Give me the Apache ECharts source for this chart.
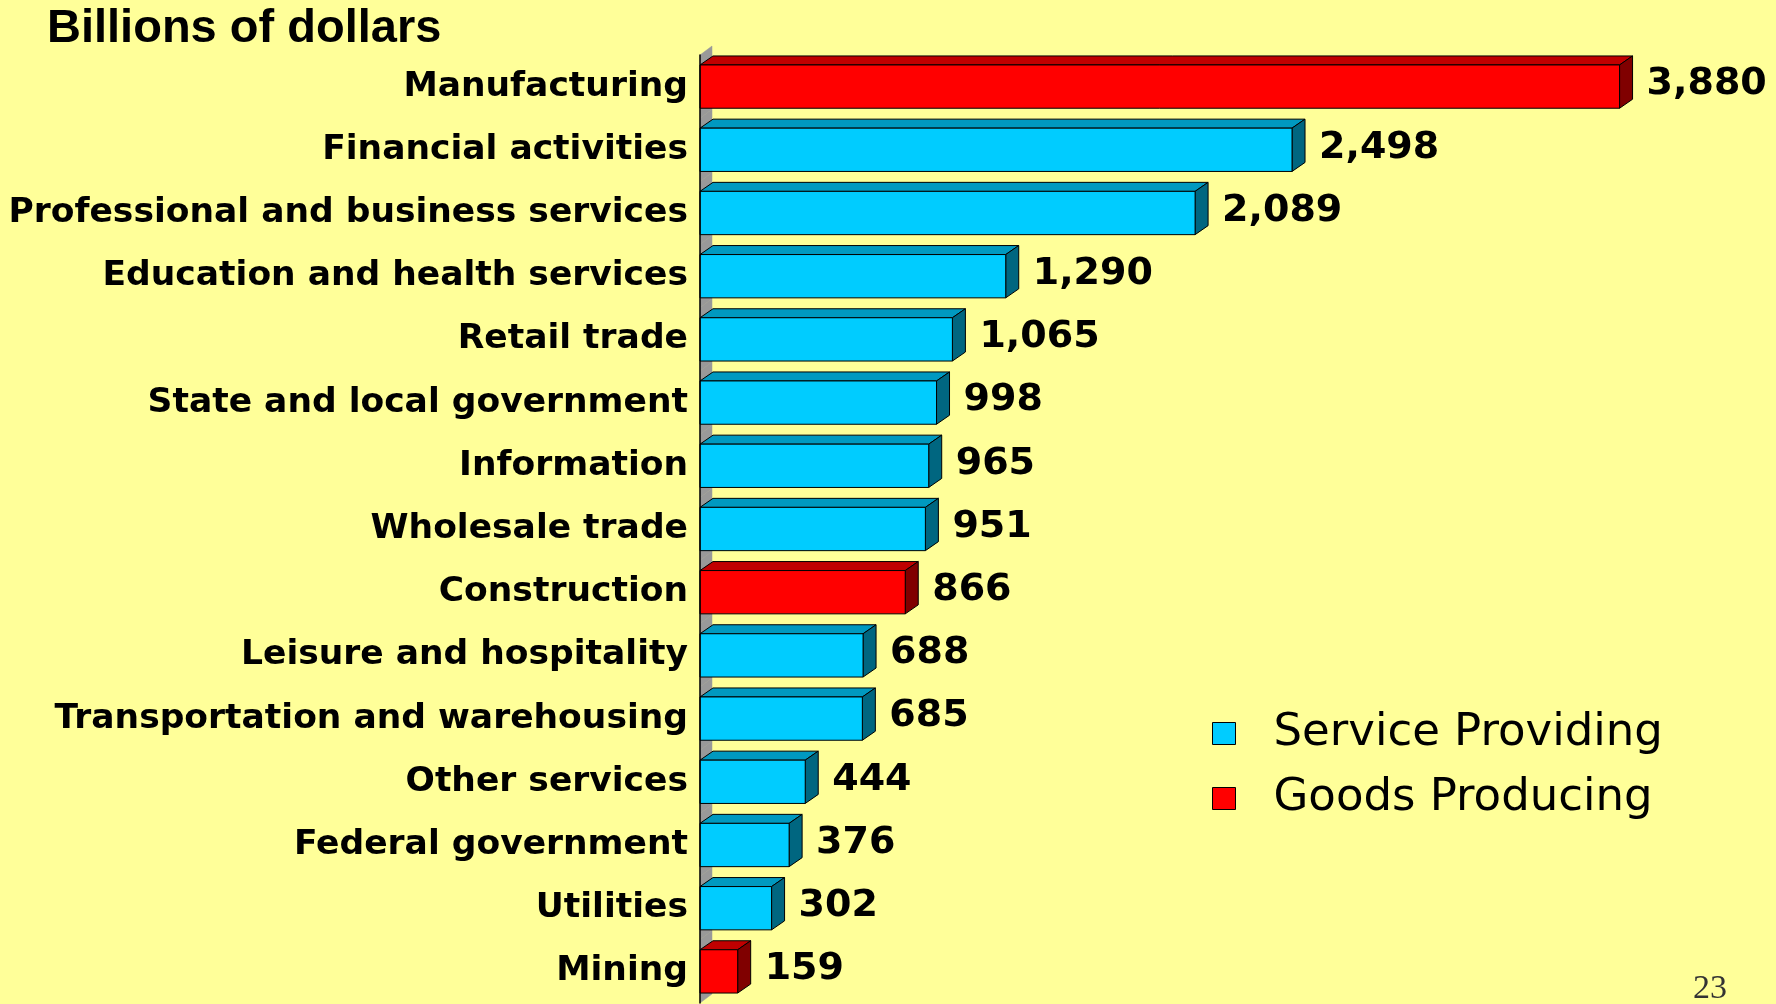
<!DOCTYPE html>
<html>
<head>
<meta charset="utf-8">
<script src="https://cdn.jsdelivr.net/npm/echarts@6/dist/echarts.min.js"></script>
<style>
  html, body { margin: 0; padding: 0; background: #FFFF99; }
  #chart { width: 1776px; height: 1004px; }
</style>
</head>
<body>
<div id="chart"></div>
<script>
// data
var categories = ['Manufacturing', 'Financial activities', 'Professional and business services',
    'Education and health services', 'Retail trade', 'State and local government', 'Information',
    'Wholesale trade', 'Construction', 'Leisure and hospitality', 'Transportation and warehousing',
    'Other services', 'Federal government', 'Utilities', 'Mining'];
var values = [3880, 2498, 2089, 1290, 1065, 998, 965, 951, 866, 688, 685, 444, 376, 302, 159];
var goodsProducing = ['Manufacturing', 'Construction', 'Mining'];

var serviceData = [], goodsData = [], wallData = [];
for (var i = 0; i < categories.length; i++) {
    if (goodsProducing.indexOf(categories[i]) >= 0) goodsData.push([values[i], i]);
    else serviceData.push([values[i], i]);
    wallData.push([0, i]);
}

var DX = 13, DY = 9;

function fmt(v) {
    return String(v).replace(/\B(?=(\d{3})+(?!\d))/g, ',');
}

// fake 3d bar: front, top and side faces + value label
function bar3d(front, topc, side) {
    return function (params, api) {
        var v = api.value(0), idx = api.value(1);
        var p0 = api.coord([0, idx]);
        var p1 = api.coord([v, idx]);
        var h = api.size([0, 1])[1] * 0.685;
        var t = p0[1] - h / 2, b = p0[1] + h / 2;
        var x0 = p0[0], x1 = p1[0];
        var line = { stroke: '#000', lineWidth: 1 };
        return {
            type: 'group',
            children: [
                { type: 'polygon', shape: { points: [[x0, t], [x0 + DX, t - DY], [x1 + DX, t - DY], [x1, t]] },
                  style: Object.assign({ fill: topc }, line) },
                { type: 'polygon', shape: { points: [[x1, t], [x1 + DX, t - DY], [x1 + DX, b - DY], [x1, b]] },
                  style: Object.assign({ fill: side }, line) },
                { type: 'rect', shape: { x: x0, y: t, width: x1 - x0, height: h },
                  style: Object.assign({ fill: front }, line) },
                { type: 'text', style: { text: fmt(v), x: x1 + DX + 14, y: p0[1] - 2,
                    font: 'bold 38px "DejaVu Sans"', fill: '#000', verticalAlign: 'middle', align: 'left' } }
            ]
        };
    };
}

var myChart = echarts.init(document.getElementById('chart'));

option = {
    backgroundColor: '#FFFF99',
    animation: false,
    title: {
        text: 'Billions of dollars',
        left: 42,
        top: 1,
        textStyle: { fontFamily: 'Liberation Sans', fontWeight: 'bold', fontSize: 47, color: '#000' }
    },
    legend: {
        orient: 'vertical',
        left: 1207,
        top: 706,
        itemWidth: 23,
        itemHeight: 22,
        itemGap: 20,
        icon: 'rect',
        itemStyle: { borderColor: '#000', borderWidth: 1 },
        textStyle: { fontFamily: 'DejaVu Sans', fontSize: 45, lineHeight: 44, color: '#000', padding: [0, 0, 0, 33] },
        data: ['Service Providing', 'Goods Producing']
    },
    grid: { left: 700, right: 128, top: 55, bottom: 1, outerBoundsMode: 'none' },
    xAxis: { type: 'value', min: 0, max: 4000, show: false },
    yAxis: {
        type: 'category',
        data: categories,
        inverse: true,
        z: 5,
        axisLine: { lineStyle: { color: '#000', width: 1.5 } },
        axisTick: { show: false },
        axisLabel: { margin: 12, fontFamily: 'DejaVu Sans', fontWeight: 'bold', fontSize: 34.5, color: '#000' }
    },
    graphic: [{
        type: 'text', left: 1693, top: 972,
        style: { text: '23', font: '34px "Liberation Serif"', fill: '#333' }
    }],
    series: [
        {
            name: 'wall', type: 'custom', z: 1, silent: true,
            renderItem: function (params, api) {
                var p = api.coord([0, api.value(1)]);
                var band = api.size([0, 1])[1];
                var t = p[1] - band / 2, b = p[1] + band / 2;
                return { type: 'polygon',
                    shape: { points: [[p[0], t], [p[0] + 12, t - DY], [p[0] + 12, b - DY], [p[0], b]] },
                    style: { fill: '#999999', stroke: '#999999', lineWidth: 0.5 } };
            },
            data: wallData
        },
        {
            name: 'Service Providing', type: 'custom', z: 2,
            itemStyle: { color: '#00CCFF' },
            encode: { x: 0, y: 1 },
            renderItem: bar3d('#00CCFF', '#0099C0', '#006680'),
            data: serviceData
        },
        {
            name: 'Goods Producing', type: 'custom', z: 2,
            itemStyle: { color: '#FF0000' },
            encode: { x: 0, y: 1 },
            renderItem: bar3d('#FF0000', '#C00000', '#800000'),
            data: goodsData
        }
    ]
};

myChart.setOption(option);
</script>
</body>
</html>
